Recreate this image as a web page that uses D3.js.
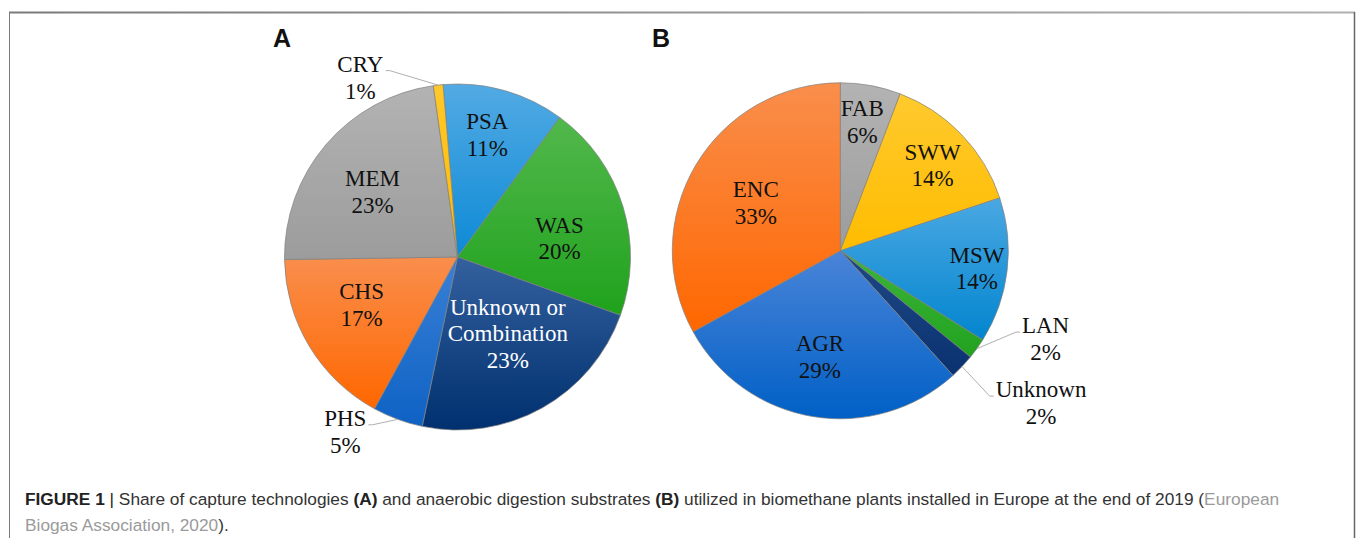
<!DOCTYPE html>
<meta charset="utf-8">
<style>
body { margin: 0; background: #fff; }
svg { display: block; }
.slice-label { font-family: "Liberation Serif", "Times New Roman", serif; font-size: 23px; }
.caption { font-family: "Liberation Sans", Arial, sans-serif; font-size: 17px; fill: #333; }
.panel-letter { font-family: "Liberation Sans", Arial, sans-serif; font-size: 25px; font-weight: bold; fill: #111; }
.leader { fill: none; stroke: #b0b0b0; stroke-width: 1px; }
</style>
<svg width="1357" height="538"></svg>
<script src="https://d3js.org/d3.v7.min.js"></script>
<script>
// panel A - capture technologies (share, %)
var techNames  = ["PSA", "WAS", "Unknown or\nCombination", "PHS", "CHS", "MEM", "CRY"],
    techShares = [11.4, 20.4, 22.8, 4.7, 16.8, 23.0, 0.9];
// panel B - anaerobic digestion substrates (share, %)
var subNames  = ["FAB", "SWW", "MSW", "LAN", "Unknown", "AGR", "ENC"],
    subShares = [5.8, 14.1, 14.0, 2.0, 2.4, 28.7, 33.0];

// gradient colours per slice, [top, bottom]
var techColors = [["#52aae3", "#0d8ad6"], ["#52b84c", "#1fa21c"], ["#34609e", "#00306f"],
                  ["#3a80d6", "#0e62c4"], ["#f98e4c", "#ff6700"], ["#b3b3b3", "#9c9c9c"],
                  ["#ffc82a", "#ffbb00"]],
    subColors  = [["#b3b3b3", "#9c9c9c"], ["#ffca2e", "#ffbc00"], ["#4aa8e2", "#0385cf"],
                  ["#3db53a", "#22a21f"], ["#1f4a86", "#0a3170"], ["#4a84d8", "#0060c6"],
                  ["#f98e4c", "#ff6700"]];

// label placement: radius as fraction of R, shift in degrees from the slice middle
var techLabelR = [0.726, 0.60, 0.53, 1.20, 0.62, 0.62, 1.18],
    techLabelShift = [-2, 6.6, -4, 12.5, 4.5, -3, -22],
    techLabelFill = ["#111", "#111", "#fff", "#111", "#111", "#111", "#111"];
var subLabelR = [0.78, 0.75, 0.82, 1.33, 1.50, 0.64, 0.58],
    subLabelShift = [-0.8, 0.9, 0.4, -12.4, -6.4, 1.4, -0.8],
    subLabelFill = ["#111", "#111", "#111", "#111", "#111", "#111", "#111"];

var svg = d3.select("svg");
var defs = svg.append("defs");
var rad = Math.PI / 180, lineH = 26.7;

function drawPie(id, cx, cy, R, names, shares, colors, startDeg, labR, labShift, labFill) {
  var pie = d3.pie().sort(null).value(function(d) { return d; })
      .startAngle(startDeg * rad).endAngle(startDeg * rad + 2 * Math.PI);
  var arcs = pie(shares);
  var arc = d3.arc().innerRadius(0).outerRadius(R);
  var g = svg.append("g").attr("transform", "translate(" + cx + "," + cy + ")");

  colors.forEach(function(c, i) {
    var lg = defs.append("linearGradient").attr("id", id + "g" + i)
        .attr("x1", 0).attr("y1", 0).attr("x2", 0).attr("y2", 1);
    lg.append("stop").attr("offset", "0%").attr("stop-color", c[0]);
    lg.append("stop").attr("offset", "100%").attr("stop-color", c[1]);
  });

  g.selectAll("path.slice").data(arcs).enter().append("path")
      .attr("class", "slice")
      .attr("d", arc)
      .attr("fill", function(d, i) { return "url(#" + id + "g" + i + ")"; })
      .attr("stroke", "#808080")
      .attr("stroke-width", 0.7);

  arcs.forEach(function(d, i) {
    var mid = (d.startAngle + d.endAngle) / 2;
    var a = mid + labShift[i] * rad, r = labR[i] * R;
    var lx = r * Math.sin(a), ly = -r * Math.cos(a);
    var lines = names[i].split("\n").concat([Math.round(shares[i]) + "%"]);
    var n = lines.length;
    var texts = lines.map(function(t, k) {
      return g.append("text").attr("class", "slice-label")
          .attr("text-anchor", "middle")
          .attr("x", lx)
          .attr("y", ly + (k - (n - 1) / 2) * lineH + 7.8)
          .attr("fill", labFill[i])
          .text(t);
    });
    if (labR[i] > 1) {
      // leader line from the slice edge to the label
      var ex = R * Math.sin(mid), ey = -R * Math.cos(mid);
      var bb = texts[0].node().getBBox();
      var ty = ly - (n - 1) / 2 * lineH + 6.5;
      var tx = lx < ex ? bb.x + bb.width + 2 : bb.x - 2;
      var sx = lx < ex ? tx + 4 : tx - 4;
      g.append("polyline").attr("class", "leader")
          .attr("points", [[tx, ty], [sx, ty], [ex, ey]].join(" "));
    }
  });
}

drawPie("a", 457.5, 257, 173, techNames, techShares, techColors, -4.8,
        techLabelR, techLabelShift, techLabelFill);
drawPie("b", 840.3, 250.8, 168, subNames, subShares, subColors, 0,
        subLabelR, subLabelShift, subLabelFill);

svg.append("text").attr("class", "panel-letter").attr("x", 273).attr("y", 47).text("A");
svg.append("text").attr("class", "panel-letter").attr("x", 652).attr("y", 47).text("B");

// frame
var fg = defs.append("linearGradient").attr("id", "frameTop");
fg.append("stop").attr("offset", "0%").attr("stop-color", "#7a7a7a");
fg.append("stop").attr("offset", "100%").attr("stop-color", "#b0b0b0");
svg.append("rect").attr("x", 9).attr("y", 11.5).attr("width", 1346).attr("height", 2).attr("fill", "url(#frameTop)");
svg.append("line").attr("x1", 9.5).attr("x2", 9.5).attr("y1", 12).attr("y2", 538)
    .attr("stroke", "#7a7a7a").attr("stroke-width", 1);
svg.append("line").attr("x1", 1354.5).attr("x2", 1354.5).attr("y1", 12).attr("y2", 538)
    .attr("stroke", "#666").attr("stroke-width", 1.5);

// caption
var cap1 = [["FIGURE 1 ", "b", "#222"], ["| ", "n", "#222"], ["Share of capture technologies ", "n", "#333"],
            ["(A)", "b", "#222"], [" and anaerobic digestion substrates ", "n", "#333"], ["(B)", "b", "#222"],
            [" utilized in biomethane plants installed in Europe at the end of 2019 (", "n", "#333"],
            ["European", "n", "#9a9a9a"]],
    cap2 = [["Biogas Association, 2020", "n", "#9a9a9a"], [").", "n", "#333"]];

function captionLine(parts) {
  var t = svg.append("text").attr("class", "caption").attr("x", 0).attr("y", 0);
  parts.forEach(function(p) {
    t.append("tspan").attr("font-weight", p[1] === "b" ? "bold" : "normal")
        .attr("fill", p[2]).text(p[0]);
  });
  return t;
}
var c1 = captionLine(cap1), c2 = captionLine(cap2);
// slightly condensed glyphs so the first line spans the frame
var sx = (1280 - 25) / c1.node().getComputedTextLength();
c1.attr("transform", "translate(25,505) scale(" + sx + ",1)");
c2.attr("transform", "translate(25,531) scale(" + sx + ",1)");
</script>
